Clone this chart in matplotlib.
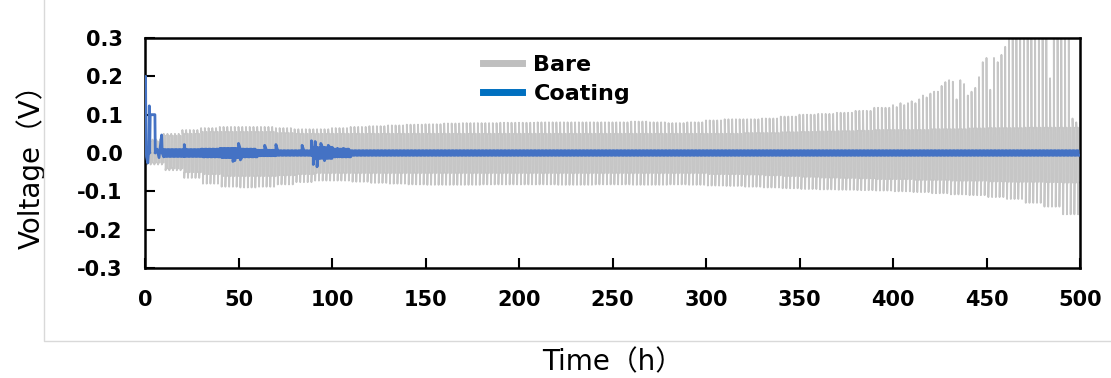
import numpy as np
import matplotlib.pyplot as plt
from matplotlib.lines import Line2D

plt.rcParams['font.family'] = ['DejaVu Sans']

# Bare cell envelope, one value per 10 h window (5 cycles of 2 h each)
win_start = [0, 10, 20, 30, 40, 50, 60, 70, 80, 90,
             100, 110, 120, 130, 140, 150, 160, 170, 180, 190,
             200, 210, 220, 230, 240, 250, 260, 270, 280, 290,
             300, 310, 320, 330, 340, 350, 360, 370, 380, 390,
             400, 410, 420, 430, 440, 450, 460, 470, 480, 490]
bare_up_spike = [0.035, 0.05, 0.06, 0.065, 0.068, 0.068, 0.068, 0.065, 0.062, 0.062,
                 0.065, 0.068, 0.07, 0.072, 0.074, 0.075, 0.077, 0.078, 0.078, 0.079,
                 0.079, 0.08, 0.08, 0.08, 0.08, 0.08, 0.082, 0.08, 0.078, 0.08,
                 0.085, 0.088, 0.088, 0.09, 0.095, 0.1, 0.102, 0.105, 0.11, 0.118,
                 0.125, 0.13, 0.15, 0.17, 0.2, 0.24, 0.29, 0.31, 0.28, 0.25]
bare_up_plat = [0.03, 0.045, 0.05, 0.055, 0.055, 0.055, 0.055, 0.052, 0.05, 0.05,
                0.05, 0.05, 0.05, 0.05, 0.05, 0.05, 0.05, 0.05, 0.05, 0.05,
                0.05, 0.05, 0.05, 0.05, 0.05, 0.05, 0.05, 0.05, 0.05, 0.05,
                0.05, 0.05, 0.052, 0.052, 0.054, 0.055, 0.056, 0.057, 0.058, 0.06,
                0.06, 0.06, 0.062, 0.062, 0.064, 0.065, 0.065, 0.066, 0.066, 0.066]
bare_lo_spike = [-0.03, -0.045, -0.065, -0.08, -0.088, -0.09, -0.088, -0.082, -0.076, -0.072,
                 -0.072, -0.075, -0.078, -0.08, -0.082, -0.083, -0.083, -0.083, -0.082, -0.082,
                 -0.082, -0.082, -0.083, -0.083, -0.082, -0.082, -0.083, -0.083, -0.082, -0.083,
                 -0.085, -0.086, -0.088, -0.09, -0.092, -0.094, -0.095, -0.096, -0.097, -0.098,
                 -0.1, -0.102, -0.105, -0.108, -0.11, -0.115, -0.12, -0.13, -0.14, -0.16]
bare_lo_plat = [-0.025, -0.04, -0.05, -0.055, -0.06, -0.06, -0.06, -0.058, -0.055, -0.052,
                -0.052, -0.052, -0.052, -0.052, -0.052, -0.052, -0.052, -0.052, -0.052, -0.052,
                -0.052, -0.052, -0.052, -0.052, -0.052, -0.052, -0.052, -0.052, -0.052, -0.052,
                -0.055, -0.055, -0.056, -0.058, -0.06, -0.062, -0.064, -0.065, -0.066, -0.068,
                -0.068, -0.07, -0.07, -0.072, -0.072, -0.074, -0.075, -0.075, -0.076, -0.077]

# Upper spike of each cycle after 400 h (cycles start every 2 h)
late_cycle_start = [400, 402, 404, 406, 408, 410, 412, 414, 416, 418,
                    420, 422, 424, 426, 428, 430, 432, 434, 436, 438,
                    440, 442, 444, 446, 448, 450, 452, 454, 456, 458,
                    460, 462, 464, 466, 468, 470, 472, 474, 476, 478,
                    480, 482, 484, 486, 488, 490, 492, 494, 496, 498]
late_up_spike = [0.125, 0.12, 0.13, 0.125, 0.13, 0.135, 0.13, 0.14, 0.15, 0.145,
                 0.155, 0.16, 0.16, 0.175, 0.185, 0.19, 0.186, 0.14, 0.19, 0.18,
                 0.15, 0.16, 0.17, 0.198, 0.237, 0.248, 0.165, 0.248, 0.237, 0.256,
                 0.277, 0.31, 0.31, 0.31, 0.31, 0.31, 0.31, 0.31, 0.31, 0.31,
                 0.31, 0.31, 0.195, 0.31, 0.31, 0.31, 0.31, 0.31, 0.09, 0.08]

# Coated cell: first 10 h read point by point
coat_early_t = [0, 0.3, 0.5, 0.8, 1.5, 2.0, 2.3, 2.5, 2.8, 3.0, 5.3, 5.5, 6.5, 7.5, 8.9, 9.2, 10]
coat_early_v = [0.0, 0.2, 0.02, -0.01, -0.026, 0.01, 0.123, 0.0, 0.1, 0.1, 0.1, 0.0, 0.01,
                -0.012, 0.047, 0.0, -0.01]
# half width of the coated-cell band per 10 h window
coat_amp = [0.01, 0.009, 0.009, 0.01, 0.012, 0.01, 0.007, 0.006, 0.006, 0.014,
            0.01, 0.006, 0.006, 0.006, 0.006, 0.006, 0.006, 0.006, 0.006, 0.006,
            0.006, 0.006, 0.006, 0.006, 0.006, 0.006, 0.006, 0.006, 0.006, 0.006,
            0.006, 0.006, 0.006, 0.006, 0.006, 0.006, 0.006, 0.006, 0.006, 0.006,
            0.006, 0.006, 0.006, 0.006, 0.006, 0.006, 0.006, 0.006, 0.006, 0.006]
# isolated spikes of the coated cell
coat_spike_t = [21, 47, 48, 50, 51, 64, 70, 84, 89, 90, 91, 92, 94, 96, 98, 100, 103, 106]
coat_spike_v = [0.022, -0.022, -0.02, 0.025, -0.018, 0.02, 0.022, 0.02, 0.032, -0.03,
                0.03, -0.036, 0.025, -0.02, 0.02, 0.015, 0.012, 0.012]

# build the bare trace, cycle by cycle
bare_t = []
bare_v = []
late_lookup = dict(zip(late_cycle_start, late_up_spike))
for i, w in enumerate(win_start):
    for k in range(5):
        t0 = w + 2 * k
        up = late_lookup.get(t0, bare_up_spike[i])
        bare_t += [t0, t0 + 0.15, t0 + 0.95, t0 + 1.0, t0 + 1.15, t0 + 1.95]
        bare_v += [up, bare_up_plat[i], bare_up_plat[i],
                   bare_lo_spike[i], bare_lo_plat[i], bare_lo_plat[i]]

# build the coated trace
coat_t = list(coat_early_t)
coat_v = list(coat_early_v)
for i, w in enumerate(win_start):
    if w < 10:
        continue
    for k in range(5):
        t0 = w + 2 * k
        a = coat_amp[i]
        coat_t += [t0, t0 + 1.0, t0 + 1.0, t0 + 2.0]
        coat_v += [a, a, -a, -a]
coat_t = np.array(coat_t + coat_spike_t, dtype=float)
coat_v = np.array(coat_v + coat_spike_v, dtype=float)
order = np.argsort(coat_t, kind='stable')
coat_t = coat_t[order]
coat_v = coat_v[order]

fig = plt.figure(figsize=(11.11, 3.78), dpi=100)
ax = fig.add_axes([145 / 1111, 1 - 268 / 378, 935 / 1111, 230 / 378])

ax.plot(bare_t, bare_v, color='#C6C6C6', lw=1.3, zorder=2)
ax.plot(coat_t, coat_v, color='#4472C4', lw=2.0, zorder=3)

ax.set_xlim(0, 500)
ax.set_ylim(-0.3, 0.3)
ax.set_xticks(np.arange(0, 501, 50))
ax.set_yticks(np.arange(-0.3, 0.31, 0.1))
ax.set_yticklabels(['-0.3', '-0.2', '-0.1', '0.0', '0.1', '0.2', '0.3'])
ax.tick_params(direction='in', length=7, width=1.5, labelsize=15, pad=16)
for lab in ax.get_xticklabels() + ax.get_yticklabels():
    lab.set_fontweight('bold')
for sp in ax.spines.values():
    sp.set_linewidth(1.8)

lab_font = ['DejaVu Sans', 'Noto Sans CJK JP']
ax.set_xlabel('Time（h）', family=lab_font, fontsize=20)
ax.xaxis.set_label_coords(0.5, -0.35)
ax.set_ylabel('Voltage（V）', family=lab_font, fontsize=20)
ax.yaxis.set_label_coords(-0.106, 0.47)

handles = [Line2D([], [], color='#BFBFBF', lw=5),
           Line2D([], [], color='#0070C0', lw=5)]
leg = ax.legend(handles, ['Bare', 'Coating'], loc='upper left',
                bbox_to_anchor=(0.362, 0.925), frameon=False, borderpad=0,
                borderaxespad=0, handlelength=1.75, handletextpad=0.5,
                labelspacing=0.4, prop={'size': 16, 'weight': 'bold'})

# light chart-area border (left and bottom edges only)
fig.add_artist(Line2D([44 / 1111, 44 / 1111, 1.0], [1.0, 1 - 341 / 378, 1 - 341 / 378],
                      transform=fig.transFigure, color='#D9D9D9', lw=1))

fig.savefig('out.png', dpi=100)
